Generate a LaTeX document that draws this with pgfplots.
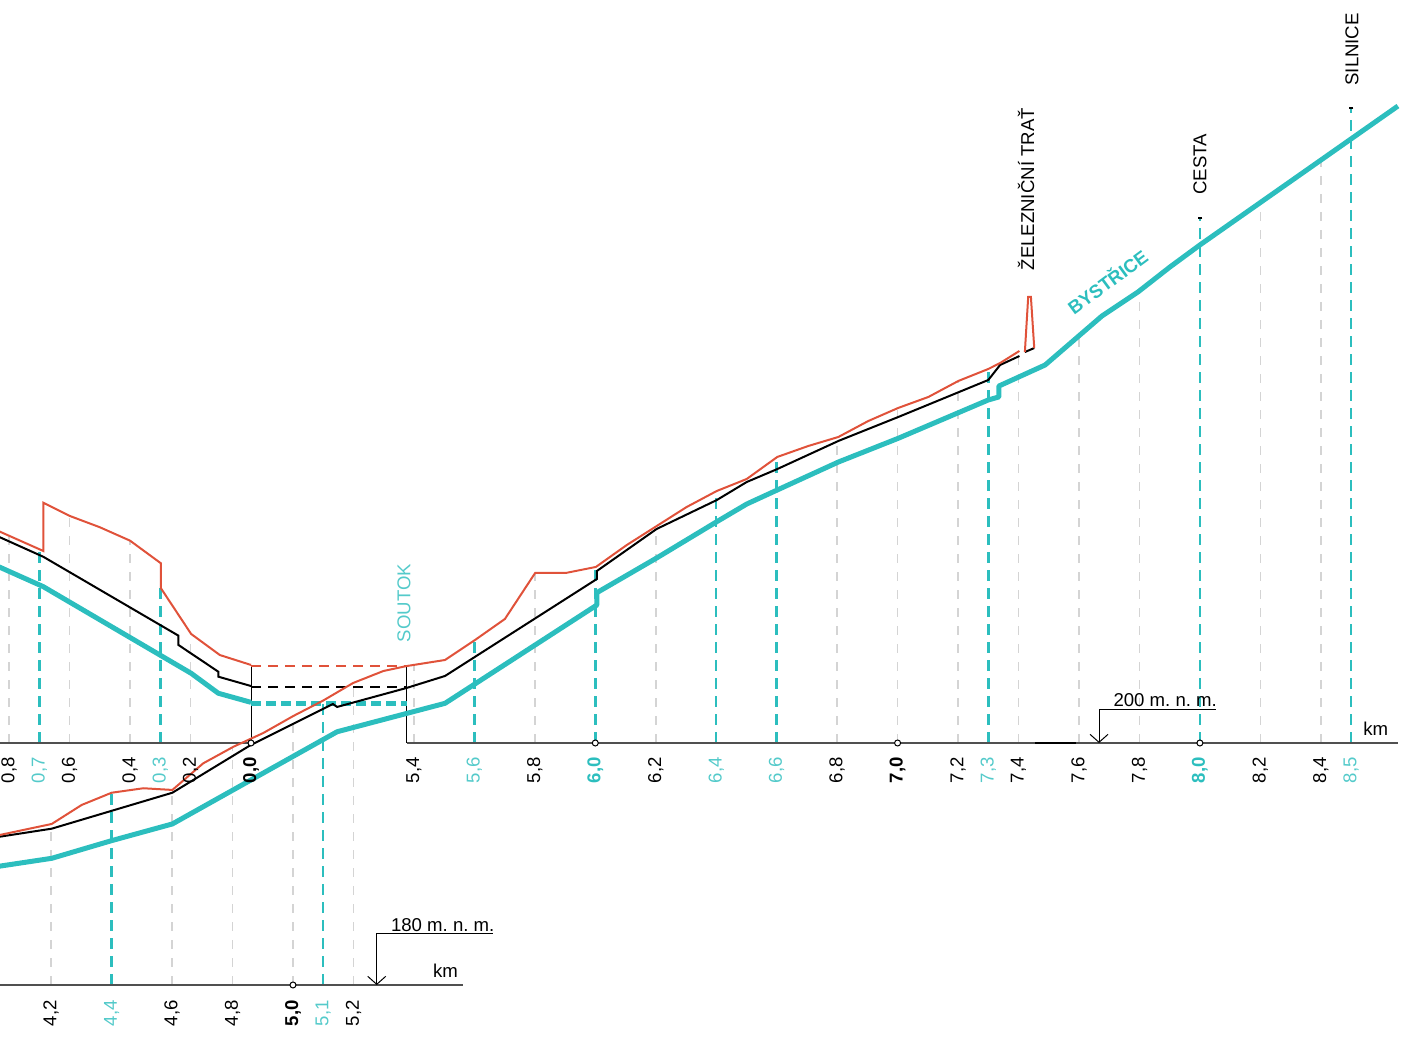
\documentclass[border=0pt]{standalone}
\usepackage{fontspec}
\setmainfont{Liberation Sans}
\usepackage{pgfplots}
\pgfplotsset{compat=1.18}
\usetikzlibrary{arrows.meta}
\definecolor{tyrkys}{RGB}{44,190,190}
\definecolor{tyrkystxt}{RGB}{84,202,202}
\definecolor{cervena}{RGB}{224,82,58}
\definecolor{seda}{RGB}{212,212,212}
\definecolor{osa}{RGB}{80,80,80}

% x = staniceni hlavniho toku [km], y = nadmorska vyska [m n. m.]
% pritok se kresli obracene: x = 4.8611 - km pritoku
\newcommand\lbl[3][]{\node[rotate=90,anchor=east,inner sep=0pt,#1] at (axis cs:#2) {#3};}

\begin{document}
\frenchspacing
\fontsize{9.3}{11}\selectfont
\begin{tikzpicture}
\begin{axis}[
	scale only axis,
	width=704pt, height=519.5pt,
	xmin=4.0308, xmax=8.6884,
	ymin=175.537, ymax=261.405,
	hide axis,
	clip mode=individual,
	unbounded coords=jump,
]
\coordinate (SW) at (rel axis cs:0,0);
\coordinate (NE) at (rel axis cs:1,1);

% sede svislice po 0,2 km
\addplot[seda, line width=0.75pt, dash pattern=on 4.5pt off 4.5pt] coordinates {
	(4.2,180) (4.2,193.31) (4.2,nan)
	(4.6,180) (4.6,196.12) (4.6,nan)
	(4.8,180) (4.8,199.65) (4.8,nan)
	(5.0,180) (5.0,202.22) (5.0,nan)
	(5.2,180) (5.2,204.97) (5.2,nan)
	(5.4,200) (5.4,206.45) (5.4,nan)
	(5.8,200) (5.8,214.05) (5.8,nan)
	(6.2,200) (6.2,217.9) (6.2,nan)
	(6.8,200) (6.8,225.25) (6.8,nan)
	(7.0,200) (7.0,227.67) (7.0,nan)
	(7.2,200) (7.2,229.9) (7.2,nan)
	(7.4,200) (7.4,232.35) (7.4,nan)
	(7.6,200) (7.6,233.65) (7.6,nan)
	(7.8,200) (7.8,237.36) (7.8,nan)
	(8.2,200) (8.2,244.67) (8.2,nan)
	(8.4,200) (8.4,248.17) (8.4,nan)
	(4.0611,200) (4.0611,217.13) (4.0611,nan)
	(4.2611,200) (4.2611,218.77) (4.2611,nan)
	(4.4611,200) (4.4611,216.72) (4.4611,nan)
	(4.6611,200) (4.6611,209.08)
};

% tyrkysove svislice (profily)
\addplot[tyrkys, line width=1.25pt, dash pattern=on 5.5pt off 3.5pt] coordinates {
	(4.1611,200) (4.1611,216.0) (4.1611,nan)
	(4.5611,200) (4.5611,212.8) (4.5611,nan)
	(4.4,180) (4.4,195.9) (4.4,nan)
	(5.1,180) (5.1,203.4) (5.1,nan)
	(5.6,200) (5.6,208.5) (5.6,nan)
	(6.0,200) (6.0,214.55) (6.0,nan)
	(6.4,200) (6.4,220.83) (6.4,nan)
	(6.6,200) (6.6,223.64) (6.6,nan)
	(7.3,200) (7.3,230.9) (7.3,nan)
	(8.0,200) (8.0,243.4) (8.0,nan)
	(8.5,200) (8.5,252.5)
};

% srovnavaci roviny
\addplot[osa, line width=0.75pt] coordinates {
	(4.0,200) (4.8611,200) (4.8611,nan) (5.376,200) (8.655,200) (8.655,nan)
	(4.0,180) (5.562,180)
};
\addplot[black, line width=1.25pt] coordinates {(7.455,200) (7.59,200)};
\addplot[black, line width=0.5pt] coordinates {
	(4.8611,200) (4.8611,206.4) (4.8611,nan) (5.376,200) (5.376,206.4)
};

% pritok: dno, hladina, teren
\addplot[tyrkys, line width=2.5pt, line join=round] table[x expr=4.8611-\thisrow{t}, y=h] {
t h
0.85 214.74
0.687 212.92
0.198 205.76
0.108 204.11
0.000 203.36
};
\addplot[black, line width=1pt] table[x expr=4.8611-\thisrow{t}, y=h] {
t h
0.85 217.22
0.687 215.39
0.240 208.87
0.240 208.10
0.108 205.89
0.108 205.48
0.000 204.71
};
\addplot[cervena, line width=1pt] table[x expr=4.8611-\thisrow{t}, y=h] {
t h
0.85 217.68
0.687 215.87
0.687 219.86
0.599 218.76
0.500 217.83
0.400 216.72
0.298 214.85
0.298 212.79
0.198 209.01
0.103 207.27
0.000 206.45
};

% soutok - prodlouzeni pritoku
\addplot[tyrkys, line width=2.5pt, dash pattern=on 5pt off 2.5pt] coordinates {(4.8611,203.3) (5.376,203.3)};
\addplot[black, line width=1pt, dash pattern=on 5pt off 3.5pt] coordinates {(4.8611,204.6) (5.376,204.6)};
\addplot[cervena, line width=1pt, dash pattern=on 5pt off 3.5pt] coordinates {(4.8611,206.4) (5.376,206.4)};

% hlavni tok
\addplot[tyrkys, line width=2.5pt, line join=round] coordinates {
	(4.0,189.71) (4.202,190.47) (4.400,191.93) (4.601,193.31)
	(5.146,200.93) (5.503,203.28) (6.005,211.40) (6.005,212.42)
	(6.203,215.29) (6.402,218.29) (6.501,219.75) (6.602,220.91)
	(6.804,223.22) (7.002,225.18) (7.300,228.35) (7.335,228.60)
	(7.335,229.50) (7.488,231.24) (7.676,235.29) (7.795,237.27)
	(7.901,239.34) (8.000,241.16) (8.655,252.64)
};
\addplot[black, line width=1pt] coordinates {
	(4.0,192.14) (4.202,192.92) (4.601,195.89) (4.858,199.8)
	(5.132,203.22) (5.146,202.98) (5.376,204.55) (5.503,205.54)
	(6.005,213.55) (6.005,214.21) (6.203,217.69) (6.402,220.08)
	(6.501,221.57) (6.602,222.64) (6.804,224.96) (7.002,226.94)
	(7.300,230.00) (7.339,231.24) (7.403,231.98) (7.403,nan)
	(7.421,232.31) (7.452,232.64)
};
\addplot[cervena, line width=1pt] coordinates {
	(4.0,192.24) (4.202,193.31) (4.301,194.88) (4.400,195.89)
	(4.505,196.26) (4.601,196.12) (4.703,198.32) (4.803,199.69)
	(4.902,200.83) (5.001,202.23) (5.100,203.51) (5.199,204.96)
	(5.299,205.95) (5.376,206.36) (5.503,206.86) (5.602,208.51)
	(5.701,210.25) (5.801,214.05) (5.902,214.05) (6.002,214.55)
	(6.104,216.36) (6.203,217.93) (6.302,219.50) (6.402,220.83)
	(6.501,221.82) (6.602,223.64) (6.705,224.55) (6.804,225.29)
	(6.903,226.61) (7.002,227.69) (7.102,228.60) (7.201,229.92)
	(7.300,230.91) (7.339,231.40) (7.403,232.40) (7.403,nan)
	(7.421,232.31) (7.432,236.86) (7.441,236.86) (7.452,232.64)
};

% body na osach a koncove znacky
\addplot[only marks, mark=*, mark size=1.5pt, mark options={fill=white, draw=black, line width=0.5pt}]
	coordinates {(4.8611,200) (6,200) (7,200) (8,200) (5,180)};
\addplot[only marks, mark=-, mark size=1.2pt, mark options={black, line width=1pt}]
	coordinates {(8,243.4) (8.5,252.5)};

% srovnavaci roviny - popisy
\draw[line width=0.5pt, -{Straight Barb[length=4pt,width=9pt,line width=0.5pt]}]
	(axis cs:8.053,202.77) -- (axis cs:7.6663,202.77) -- (axis cs:7.6663,200);
\node[anchor=base west, inner sep=0pt] at (axis cs:7.713,202.98) {200 m. n. m.};
\draw[line width=0.5pt, -{Straight Barb[length=4pt,width=9pt,line width=0.5pt]}]
	(axis cs:5.661,184.27) -- (axis cs:5.277,184.27) -- (axis cs:5.277,180);
\node[anchor=base west, inner sep=0pt] at (axis cs:5.323,184.41) {180 m. n. m.};
\node[anchor=base west, inner sep=0pt] at (axis cs:8.5395,200.66) {km};
\node[anchor=base west, inner sep=0pt] at (axis cs:5.462,180.64) {km};

% staniceni - pritok
\lbl{4.0611,198.84}{0,8}
\lbl[text=tyrkystxt]{4.1611,198.84}{0,7}
\lbl{4.2611,198.84}{0,6}
\lbl{4.4611,198.84}{0,4}
\lbl[text=tyrkystxt]{4.5611,198.84}{0,3}
\lbl{4.6611,198.84}{0,2}
\lbl[font=\bfseries]{4.8611,198.84}{0,0}
% staniceni - hlavni tok, dolni cast
\lbl{4.2,178.76}{4,2}
\lbl[text=tyrkystxt]{4.4,178.76}{4,4}
\lbl{4.6,178.76}{4,6}
\lbl{4.8,178.76}{4,8}
\lbl[font=\bfseries]{5.0,178.76}{5,0}
\lbl[text=tyrkystxt]{5.1,178.76}{5,1}
\lbl{5.2,178.76}{5,2}
% staniceni - hlavni tok, horni cast
\lbl{5.4,198.84}{5,4}
\lbl[text=tyrkystxt]{5.6,198.84}{5,6}
\lbl{5.8,198.84}{5,8}
\lbl[text=tyrkys,font=\bfseries]{6.0,198.84}{6,0}
\lbl{6.2,198.84}{6,2}
\lbl[text=tyrkystxt]{6.4,198.84}{6,4}
\lbl[text=tyrkystxt]{6.6,198.84}{6,6}
\lbl{6.8,198.84}{6,8}
\lbl[font=\bfseries]{7.0,198.84}{7,0}
\lbl{7.2,198.84}{7,2}
\lbl[text=tyrkystxt]{7.3,198.84}{7,3}
\lbl{7.4,198.84}{7,4}
\lbl{7.6,198.84}{7,6}
\lbl{7.8,198.84}{7,8}
\lbl[text=tyrkys,font=\bfseries]{8.0,198.84}{8,0}
\lbl{8.2,198.84}{8,2}
\lbl{8.4,198.84}{8,4}
\lbl[text=tyrkystxt]{8.5,198.84}{8,5}

% popisy objektu
\node[rotate=90, anchor=west, inner sep=0pt, text=tyrkystxt] at (axis cs:5.367,208.29) {SOUTOK};
\node[rotate=90, anchor=west, inner sep=0pt] at (axis cs:7.4247,239.03) {ŽELEZNIČNÍ TRAŤ};
\node[rotate=90, anchor=west, inner sep=0pt] at (axis cs:8.0,245.29) {CESTA};
\node[rotate=90, anchor=west, inner sep=0pt] at (axis cs:8.503,254.3) {SILNICE};
\node[rotate=36.5, text=tyrkys, font=\bfseries] at (axis cs:7.6927,238.18) {BYSTŘICE};
\end{axis}
\pgfresetboundingbox
\useasboundingbox (SW) rectangle (NE);
\end{tikzpicture}
\end{document}
